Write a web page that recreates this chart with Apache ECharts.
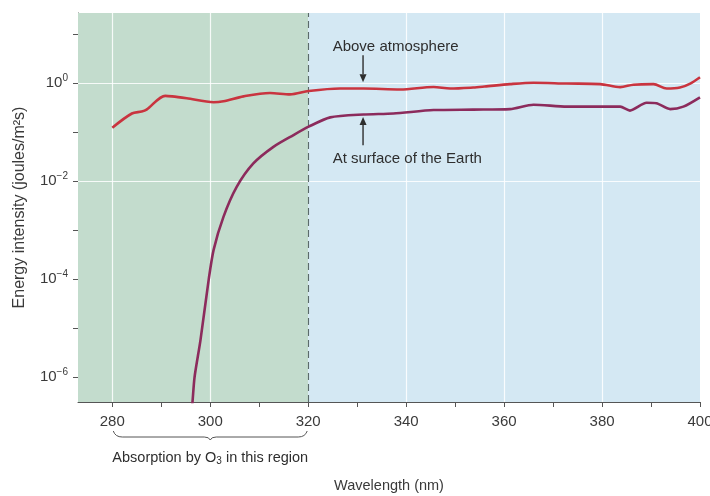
<!DOCTYPE html>
<html>
<head>
<meta charset="utf-8">
<script src="https://cdn.jsdelivr.net/npm/echarts@6/dist/echarts.min.js"></script>
<style>html,body{margin:0;padding:0;background:#fff;}#c{width:710px;height:496px;}</style>
</head>
<body>
<div id="c"></div>
<script>
// ---- data ----
const aboveWavelength = [280, 284, 286, 287, 290.8, 292.2, 295.2, 300.7, 302.7, 306.8, 312.2, 316.3, 320.1, 326.5, 331.3, 338.8, 345.6, 349, 353.7, 356, 361.2, 366, 372.8, 379.6, 383.7, 386.4, 390.5, 393.2, 395.9, 398, 400];
const aboveIntensity  = [0.123, 0.24, 0.263, 0.288, 0.55, 0.537, 0.49, 0.407, 0.427, 0.537, 0.63, 0.589, 0.69, 0.776, 0.776, 0.741, 0.832, 0.776, 0.813, 0.851, 0.955, 1.02, 0.98, 0.955, 0.83, 0.93, 0.955, 0.776, 0.813, 0.98, 1.32];
const surfaceWavelength = [295.8, 296.3, 296.8, 298, 299.7, 300.7, 302.7, 305.4, 308.8, 312.9, 317, 320.1, 324.5, 331.3, 337.4, 345.6, 353.7, 361.2, 366, 372.8, 379.6, 383.7, 385.7, 389.1, 391.1, 393.9, 396.6, 400];
const surfaceIntensity  = [1e-7, 2.5e-7, 1e-6, 5.6e-6, 1e-4, 4.0e-4, 1.86e-3, 7.6e-3, 0.0229, 0.05, 0.087, 0.129, 0.2, 0.229, 0.24, 0.282, 0.288, 0.295, 0.363, 0.331, 0.331, 0.331, 0.275, 0.398, 0.389, 0.295, 0.331, 0.513];
const xTickValues  = [280, 290, 300, 310, 320, 330, 340, 350, 360, 370, 380, 390, 400];
const xLabelValues = [280, 300, 320, 340, 360, 380, 400];
const xGridValues  = [280, 300, 340, 360, 380];
const yTickValues  = [1e-6, 1e-5, 1e-4, 1e-3, 1e-2, 1e-1, 1, 10];
const yLabelValues = [1e-6, 1e-4, 1e-2, 1];
const xRange = [273, 400];
const yRange = [3.1e-7, 27];
const ozoneEdge = 320;

const FONT = "'Liberation Sans', Arial, sans-serif";
const TXT = '#3a3a3a';

function zip(xs, ys) { return xs.map((x, i) => [x, ys[i]]); }

const chart = echarts.init(document.getElementById('c'), null, {renderer: 'canvas'});

const option = {
  animation: false,
  backgroundColor: '#ffffff',
  textStyle: {fontFamily: FONT},
  grid: {left: 78, right: 10, top: 13, bottom: 94, containLabel: false, outerBoundsMode: 'none'},
  xAxis: {
    type: 'value', min: xRange[0], max: xRange[1],
    name: 'Wavelength (nm)', nameLocation: 'middle', nameGap: 76,
    nameTextStyle: {color: TXT, fontSize: 14.5, fontFamily: FONT},
    axisLine: {show: true, lineStyle: {color: '#555', width: 1}},
    axisTick: {show: true, length: 5, lineStyle: {color: '#555'}, customValues: xTickValues},
    axisLabel: {color: TXT, fontSize: 15, margin: 12, fontFamily: FONT, customValues: xLabelValues},
    splitLine: {show: false}
  },
  yAxis: {
    type: 'log', logBase: 10, min: yRange[0], max: yRange[1],
    name: 'Energy intensity (joules/m²s)', nameLocation: 'middle', nameGap: 50,
    nameTextStyle: {color: TXT, fontSize: 16, fontFamily: FONT},
    axisLine: {show: true, lineStyle: {color: '#555', width: 1}},
    axisTick: {show: true, length: 5, lineStyle: {color: '#555'}, customValues: yTickValues},
    axisLabel: {
      color: TXT, fontSize: 15, margin: 10, fontFamily: FONT, customValues: yLabelValues,
      formatter: function (v) {
        const e = Math.round(Math.log10(v));
        return '{b|10}{s|' + (e < 0 ? '\u2212' + (-e) : e) + '}';
      },
      rich: {
        b: {fontSize: 15, color: TXT, fontFamily: FONT},
        s: {fontSize: 10, color: TXT, fontFamily: FONT, verticalAlign: 'top', padding: [0, 0, 9, 0]}
      }
    },
    splitLine: {show: false}
  },
  series: [
    {
      type: 'line', data: [], z: 1, silent: true,
      markArea: {
        silent: true,
        data: [
          [{xAxis: xRange[0], itemStyle: {color: '#c3dccd'}}, {xAxis: ozoneEdge}],
          [{xAxis: ozoneEdge, itemStyle: {color: '#d4e8f3'}}, {xAxis: xRange[1]}]
        ]
      },
      markLine: {
        silent: true, symbol: 'none', label: {show: false},
        lineStyle: {color: '#ffffff', width: 1.2, type: 'solid', opacity: 0.85},
        data: xGridValues.map(v => ({xAxis: v})).concat(yLabelValues.map(v => ({yAxis: v}))).concat([
          {xAxis: ozoneEdge, lineStyle: {color: '#5a6a6a', type: [7, 4], width: 1.1, opacity: 1}}
        ])
      }
    },
    {
      name: 'Above atmosphere', type: 'line', z: 5,
      data: zip(aboveWavelength, aboveIntensity),
      showSymbol: false, smooth: 0.3,
      lineStyle: {color: '#c9343f', width: 2.6}
    },
    {
      name: 'At surface of the Earth', type: 'line', z: 5,
      data: zip(surfaceWavelength, surfaceIntensity),
      showSymbol: false, smooth: 0.25,
      lineStyle: {color: '#8c2b5c', width: 2.6}
    }
  ]
};
chart.setOption(option);

// annotations positioned through the axes
function px(x, y) { return chart.convertToPixel({gridIndex: 0}, [x, y]); }
const arrowX = 331.2;
const pTopText = px(325, Math.pow(10, 0.75));
const pTopArrowStart = px(arrowX, Math.pow(10, 0.57));
const pTopArrowEnd = px(arrowX, Math.pow(10, 0.02));
const pBotText = px(325, Math.pow(10, -1.54));
const pBotArrowStart = px(arrowX, Math.pow(10, -1.27));
const pBotArrowEnd = px(arrowX, Math.pow(10, -0.69));
const b0 = px(280, 1e-6), b1 = px(320, 1e-6), bm = px(300, 1e-6);
const braceY = 437;

function arrow(x, y0, y1) {
  const dir = y1 > y0 ? 1 : -1;
  const h = 8, w = 3.5;
  return [
    {type: 'line', z: 100, shape: {x1: x, y1: y0, x2: x, y2: y1 - dir * h}, style: {stroke: '#2e2e2e', lineWidth: 1.4}},
    {type: 'polygon', z: 100, shape: {points: [[x - w, y1 - dir * h], [x + w, y1 - dir * h], [x, y1]]}, style: {fill: '#2e2e2e'}}
  ];
}

const bx0 = b0[0] + 1, bx1 = b1[0] - 1, bmx = bm[0];
const bs = {stroke: '#555', lineWidth: 1, fill: null};
const braceParts = [
  {type: 'bezierCurve', shape: {x1: bx0, y1: braceY - 6, cpx1: bx0 + 2, cpy1: braceY, x2: bx0 + 9, y2: braceY}, style: bs},
  {type: 'line', shape: {x1: bx0 + 9, y1: braceY, x2: bmx - 6, y2: braceY}, style: bs},
  {type: 'bezierCurve', shape: {x1: bmx - 6, y1: braceY, cpx1: bmx - 1, cpy1: braceY, x2: bmx, y2: braceY + 3}, style: bs},
  {type: 'bezierCurve', shape: {x1: bmx, y1: braceY + 3, cpx1: bmx + 1, cpy1: braceY, x2: bmx + 6, y2: braceY}, style: bs},
  {type: 'line', shape: {x1: bmx + 6, y1: braceY, x2: bx1 - 9, y2: braceY}, style: bs},
  {type: 'bezierCurve', shape: {x1: bx1 - 9, y1: braceY, cpx1: bx1 - 2, cpy1: braceY, x2: bx1, y2: braceY - 6}, style: bs}
];

const tstyle = function (t) {
  return {text: t, fill: '#2e2e2e', fontSize: 15, fontFamily: FONT, verticalAlign: 'middle', align: 'left'};
};

chart.setOption({
  graphic: [
    {type: 'text', x: pTopText[0], y: pTopText[1], z: 100, style: tstyle('Above atmosphere')},
    {type: 'text', x: pBotText[0], y: pBotText[1], z: 100, style: tstyle('At surface of the Earth')}
  ].concat(arrow(pTopArrowStart[0], pTopArrowStart[1], pTopArrowEnd[1]))
   .concat(arrow(pBotArrowStart[0], pBotArrowStart[1], pBotArrowEnd[1]))
   .concat(braceParts)
   .concat([
    {type: 'text', x: bmx, y: 458, style: {
      text: '{a|Absorption by O}{s|3}{a| in this region}', align: 'center', verticalAlign: 'middle',
      rich: {
        a: {fontSize: 14.5, fontFamily: FONT, fill: '#2e2e2e', color: '#2e2e2e'},
        s: {fontSize: 10, fontFamily: FONT, fill: '#2e2e2e', color: '#2e2e2e', padding: [7, 0, 0, 0]}
      }
    }}
  ])
});
</script>
</body>
</html>
